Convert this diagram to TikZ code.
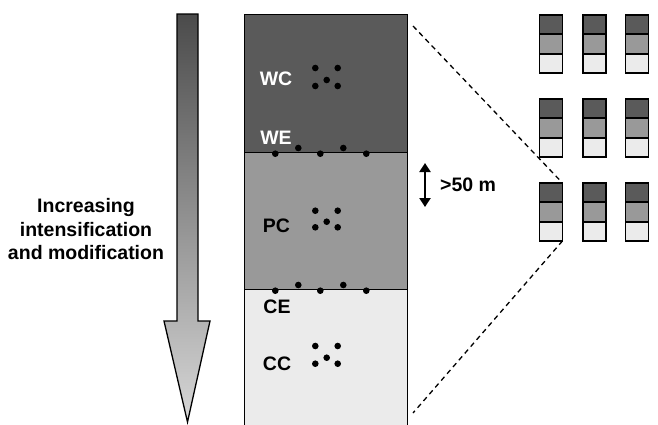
\documentclass[tikz,border=0pt]{standalone}
\usepackage{fontspec}
\setmainfont{Liberation Sans}
\usetikzlibrary{arrows.meta}
\definecolor{dk}{HTML}{5A5A5A}
\definecolor{md}{HTML}{999999}
\definecolor{lt}{HTML}{EBEBEB}
\definecolor{grtop}{HTML}{4B4B4B}
\definecolor{grbot}{HTML}{D7D7D7}
\tikzset{
  layer/.style={draw=black, line width=1pt, rectangle, inner sep=0pt, outer sep=0pt, minimum width=163pt},
  cell/.style={draw=black, line width=1.8pt, rectangle, inner sep=0pt, outer sep=0pt, minimum width=23pt, minimum height=19.3pt},
  dot/.style={circle, fill=black, inner sep=0pt, minimum size=6.6pt},
  lab/.style={font=\fontsize{19.5}{23.5}\selectfont\bfseries, inner sep=0pt},
  zoomline/.style={line width=1.3pt, dash pattern=on 5pt off 4pt},
}
\begin{document}
\begin{tikzpicture}[x=1pt,y=-1pt]
\useasboundingbox (0,0) rectangle (658,424);
% gradient arrow
\shade[top color=grtop, bottom color=grbot, draw=black, line width=1.3pt, line join=miter]
  (177,14) -- (198,14) -- (198,321) -- (210,321) -- (187.5,422) -- (164,321) -- (177,321) -- cycle;
\node[lab, align=center] (inc) at (86,229.5) {Increasing\\intensification\\and modification};
% main column
\node[layer, fill=dk, minimum height=138pt] (wc) at (325.5,83) {};
\node[layer, fill=md, minimum height=137pt] (pc) at (325.5,220.5) {};
\node[layer, fill=lt, minimum height=140pt] (cc) at (325.5,359) {};
\node[lab, text=white] (twc) at (276,79) {WC};
\node[lab, text=white] (twe) at (276,137.5) {WE};
\node[lab] (tpc) at (276.5,226) {PC};
\node[lab] (tce) at (277,307) {CE};
\node[lab] (tcc) at (277,364) {CC};
% dot clusters
\foreach \n/\y/\m/\b in {w/68/80/86, p/210.7/221.7/227.3, c/346/357.7/363.7}{
  \node[dot] (\n1) at (315.3,\y) {};
  \node[dot] (\n2) at (337.7,\y) {};
  \node[dot] (\n3) at (326.7,\m) {};
  \node[dot] (\n4) at (315.3,\b) {};
  \node[dot] (\n5) at (337.7,\b) {};
}
% boundary dots
\foreach \n/\y in {we/152, ce/289}{
  \node[dot] (\n1) at (275.3,\y+1.7) {};
  \node[dot] (\n2) at (298.3,\y-4) {};
  \node[dot] (\n3) at (320.3,\y+1.7) {};
  \node[dot] (\n4) at (343.3,\y-4) {};
  \node[dot] (\n5) at (366.3,\y+1.7) {};
}
% >50 m
\coordinate (ha) at (425,163);
\coordinate (hb) at (425,207);
\draw[line width=2.2pt, {Triangle[width=11pt,length=9pt]}-{Triangle[width=11pt,length=9pt]}] (ha) -- (hb);
\node[lab, anchor=west] (fifty) at (440,184.5) {>50 m};
% small columns
\foreach \r/\ry in {1/15, 2/99, 3/183}{
  \foreach \c/\cx in {1/551, 2/594.5, 3/637}{
    \node[cell, fill=dk, anchor=north] (s\r\c a) at (\cx,\ry) {};
    \node[cell, fill=md, anchor=north] (s\r\c b) at (s\r\c a.south) {};
    \node[cell, fill=lt, anchor=north] (s\r\c c) at (s\r\c b.south) {};
  }
}
% zoom cone
\coordinate (za) at (413,26);
\coordinate (zb) at (413,413);
\draw[zoomline] (za) -- (s31a.north east);
\draw[zoomline] (s31c.south east) -- (zb);
\end{tikzpicture}
\end{document}
